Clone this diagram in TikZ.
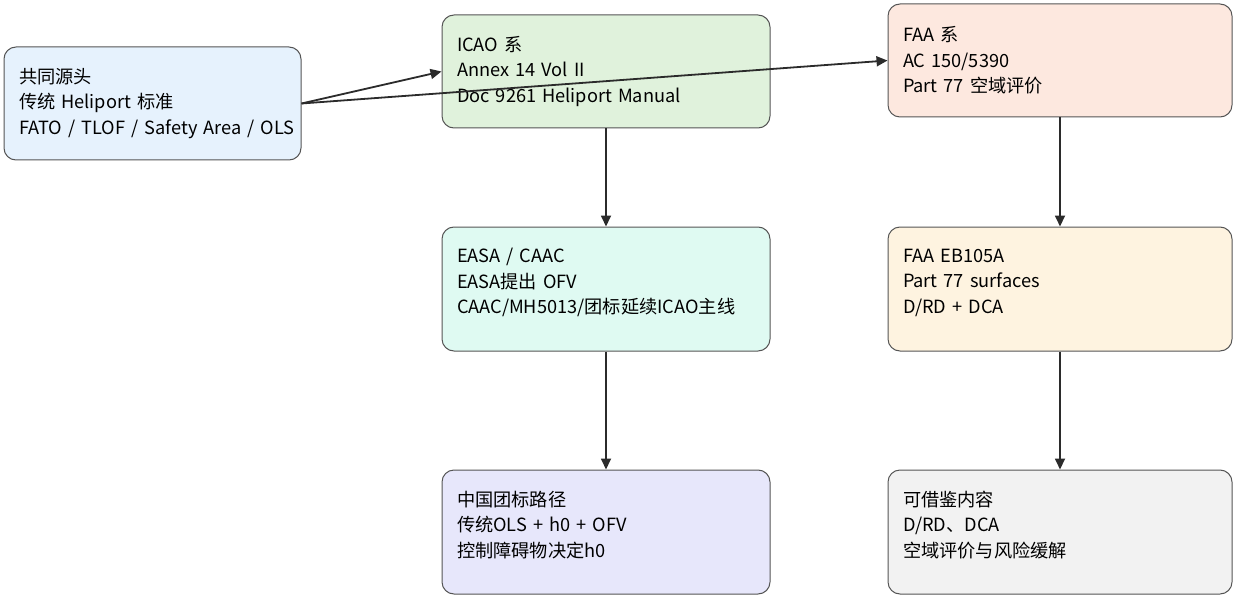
\documentclass[tikz,border=0pt]{standalone}
\usepackage{fontspec}
\setmainfont[WordSpace=0.45]{Noto Sans CJK SC}
\usetikzlibrary{arrows.meta}

\definecolor{srcfill}{HTML}{E6F2FD}
\definecolor{icaofill}{HTML}{E0F2DC}
\definecolor{faafill}{HTML}{FDE8DF}
\definecolor{easafill}{HTML}{DFFAF2}
\definecolor{ebfill}{HTML}{FEF3E0}
\definecolor{cnfill}{HTML}{E7E7FB}
\definecolor{reffill}{HTML}{F2F2F2}
\definecolor{edge}{HTML}{555555}
\definecolor{wire}{HTML}{2B2B2B}

\tikzset{
  box/.style={draw=edge, line width=1pt, rounded corners=12pt, align=left,
    inner xsep=15pt, inner ysep=0pt,
    font=\fontsize{18.2}{25.5}\selectfont},
  tallbox/.style={box, minimum height=124pt,
    execute at end node={\rule[-16pt]{0pt}{16pt}}},
  flow/.style={line width=1.8pt, draw=wire, -{Triangle[length=11pt,width=10pt]}}
}

\begin{document}
\begin{tikzpicture}[x=1pt, y=-1pt]
\useasboundingbox (0,0) rectangle (1233,596);

\node[box, fill=srcfill, text width=267pt, minimum height=113pt] (src) at (152.5,103.5)
  {共同源头\\传统 Heliport 标准\\\mbox{FATO / TLOF / Safety Area / OLS}};
\node[box, fill=icaofill, text width=298pt, minimum height=113pt] (icao) at (606,71.5)
  {ICAO 系\\Annex 14 Vol II\\Doc 9261 Heliport Manual};
\node[box, fill=faafill, text width=314pt, minimum height=113pt] (faa) at (1060,60.5)
  {FAA 系\\AC 150/5390\\Part 77 空域评价};

\node[tallbox, fill=easafill, text width=298pt] (easa) at (606,289)
  {EASA / CAAC\\EASA提出 OFV\\CAAC/MH5013/团标延续ICAO主线};
\node[tallbox, fill=ebfill, text width=314pt] (eb) at (1060,289)
  {FAA EB105A\\Part 77 surfaces\\D/RD + DCA};

\node[tallbox, fill=cnfill, text width=298pt] (cn) at (606,532)
  {中国团标路径\\传统OLS + h0 + OFV\\控制障碍物决定h0};
\node[tallbox, fill=reffill, text width=314pt] (ref) at (1060,532)
  {可借鉴内容\\D/RD、DCA\\空域评价与风险缓解};

\draw[flow] (src.east) -- (icao.west);
\draw[flow] (src.east) -- (faa.west);
\draw[flow] (icao) -- (easa);
\draw[flow] (easa) -- (cn);
\draw[flow] (faa) -- (eb);
\draw[flow] (eb) -- (ref);

\end{tikzpicture}
\end{document}
